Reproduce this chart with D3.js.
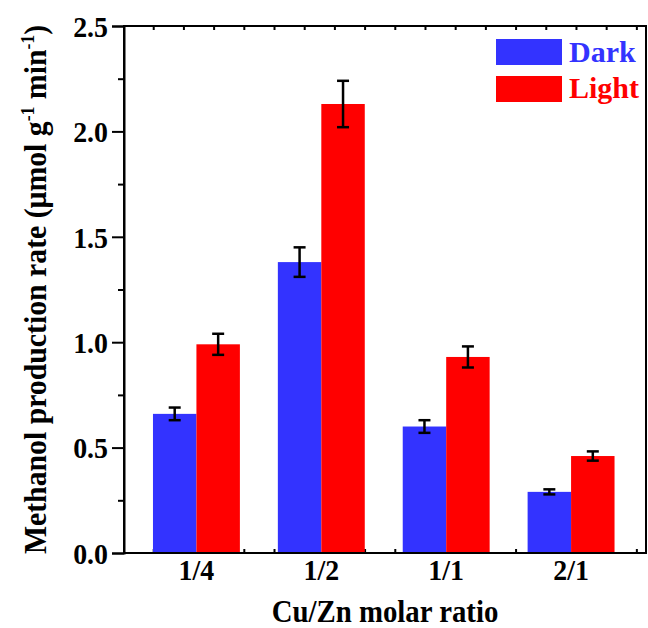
<!DOCTYPE html>
<html>
<head>
<meta charset="utf-8">
<script src="https://cdn.jsdelivr.net/npm/d3@7"></script>
<style>
  html, body { margin: 0; padding: 0; background: #fff; }
  svg { display: block; }
  text { font-family: "Liberation Serif", "Times New Roman", serif; font-weight: bold; }
</style>
</head>
<body>
<div id="chart"></div>
<script>
const categories = ["1/4", "1/2", "1/1", "2/1"];
const seriesNames = ["Dark", "Light"];
const darkValues = [0.66, 1.38, 0.60, 0.29];
const darkErrors = [0.03, 0.07, 0.03, 0.012];
const lightValues = [0.99, 2.13, 0.93, 0.46];
const lightErrors = [0.05, 0.11, 0.05, 0.022];
const yTicks = [0, 0.5, 1.0, 1.5, 2.0, 2.5];
const yMinorTicks = [0.25, 0.75, 1.25, 1.75, 2.25];
const xMinorTicks = d3.range(17).map(k => -0.346 + k * 0.2418);
const seriesColors = ["#3333FF", "#FF0000"];

const W = 648, H = 628;
const L = 124, R = 646, T = 26, B = 553;

const svg = d3.select("#chart").append("svg").attr("width", W).attr("height", H);

const x = d3.scaleLinear().domain([-0.58, 3.6]).range([L, R]);
const y = d3.scaleLinear().domain([0, 2.5]).range([B, T]);
const barW = 0.348;

// inward minor ticks on top and bottom (drawn beneath bars)
svg.append("g").attr("transform", `translate(0,${B})`)
  .call(d3.axisTop(x).tickValues(xMinorTicks).tickSize(4).tickFormat(""))
  .call(g => g.select(".domain").remove())
  .call(g => g.selectAll("line").attr("stroke", "#000").attr("stroke-width", 2));
svg.append("g").attr("transform", `translate(0,${T})`)
  .call(d3.axisBottom(x).tickValues(xMinorTicks).tickSize(4).tickFormat(""))
  .call(g => g.select(".domain").remove())
  .call(g => g.selectAll("line").attr("stroke", "#000").attr("stroke-width", 2));

const series = [
  { name: seriesNames[0], values: darkValues, errors: darkErrors, color: seriesColors[0], off: -barW },
  { name: seriesNames[1], values: lightValues, errors: lightErrors, color: seriesColors[1], off: 0 }
];

series.forEach(s => {
  const data = categories.map((c, i) => ({ i, v: s.values[i], e: s.errors[i] }));
  svg.append("g").selectAll("rect").data(data).join("rect")
    .attr("x", d => x(d.i + s.off))
    .attr("width", d => x(d.i + s.off + barW) - x(d.i + s.off))
    .attr("y", d => y(d.v))
    .attr("height", d => y(0) - y(d.v))
    .attr("fill", s.color);
});

series.forEach(s => {
  const data = categories.map((c, i) => ({ i, v: s.values[i], e: s.errors[i] }));
  const g = svg.append("g").attr("stroke", "#000").attr("stroke-width", 2.5);
  const cx = d => x(d.i + s.off + barW / 2);
  g.selectAll(".v").data(data).join("line")
    .attr("x1", cx).attr("x2", cx)
    .attr("y1", d => y(d.v - d.e)).attr("y2", d => y(d.v + d.e));
  g.selectAll(".t").data(data).join("line")
    .attr("x1", d => cx(d) - 6).attr("x2", d => cx(d) + 6)
    .attr("y1", d => y(d.v + d.e)).attr("y2", d => y(d.v + d.e));
  g.selectAll(".b").data(data).join("line")
    .attr("x1", d => cx(d) - 6).attr("x2", d => cx(d) + 6)
    .attr("y1", d => y(d.v - d.e)).attr("y2", d => y(d.v - d.e));
});

// frame
svg.append("rect").attr("x", L).attr("y", T).attr("width", R - L).attr("height", B - T)
  .attr("fill", "none").attr("stroke", "#000").attr("stroke-width", 2);

// y axis
const yAx = svg.append("g").attr("transform", `translate(${L},0)`)
  .call(d3.axisLeft(y).tickValues(yTicks).tickSize(12).tickPadding(4).tickFormat(d3.format(".1f")));
yAx.select(".domain").attr("stroke-width", 2);
yAx.selectAll("line").attr("stroke-width", 2);
yAx.selectAll("text").attr("font-size", 30).attr("fill", "#000").attr("dy", "0.34em")
  .attr("transform", "scale(0.93,1)").attr("x", -16 / 0.93)
  .style("font-family", "'Liberation Serif', serif").style("font-weight", "bold");
svg.append("g").attr("transform", `translate(${L},0)`)
  .call(d3.axisLeft(y).tickValues(yMinorTicks).tickSize(6).tickFormat(""))
  .call(g => g.select(".domain").remove())
  .call(g => g.selectAll("line").attr("stroke-width", 2));

// x category labels
svg.append("g").selectAll("text").data(categories).join("text")
  .attr("transform", (d, i) => `translate(${x(i)},580) scale(0.93,1)`)
  .attr("text-anchor", "middle").attr("font-size", 30).text(d => d);

// axis titles
svg.append("text").attr("transform", `translate(${(L + R) / 2},622) scale(0.9,1)`)
  .attr("text-anchor", "middle").attr("font-size", 32).text("Cu/Zn molar ratio");

const yt = svg.append("text").attr("transform", `translate(46,${(T + B) / 2}) rotate(-90) scale(0.93,1)`)
  .attr("text-anchor", "middle").attr("font-size", 32);
yt.append("tspan").text("Methanol production rate (μmol g");
yt.append("tspan").attr("font-size", 19).attr("dy", -12).text("-1");
yt.append("tspan").attr("dy", 12).text(" min");
yt.append("tspan").attr("font-size", 19).attr("dy", -12).text("-1");
yt.append("tspan").attr("dy", 12).text(")");

// legend
const lg = svg.append("g");
series.forEach((s, k) => {
  lg.append("rect").attr("x", 496).attr("y", 39 + k * 37).attr("width", 66).attr("height", 26)
    .attr("fill", s.color);
  lg.append("text").attr("x", 569).attr("y", 62 + k * 36).attr("font-size", 30)
    .attr("fill", s.color).text(s.name);
});
</script>
</body>
</html>
